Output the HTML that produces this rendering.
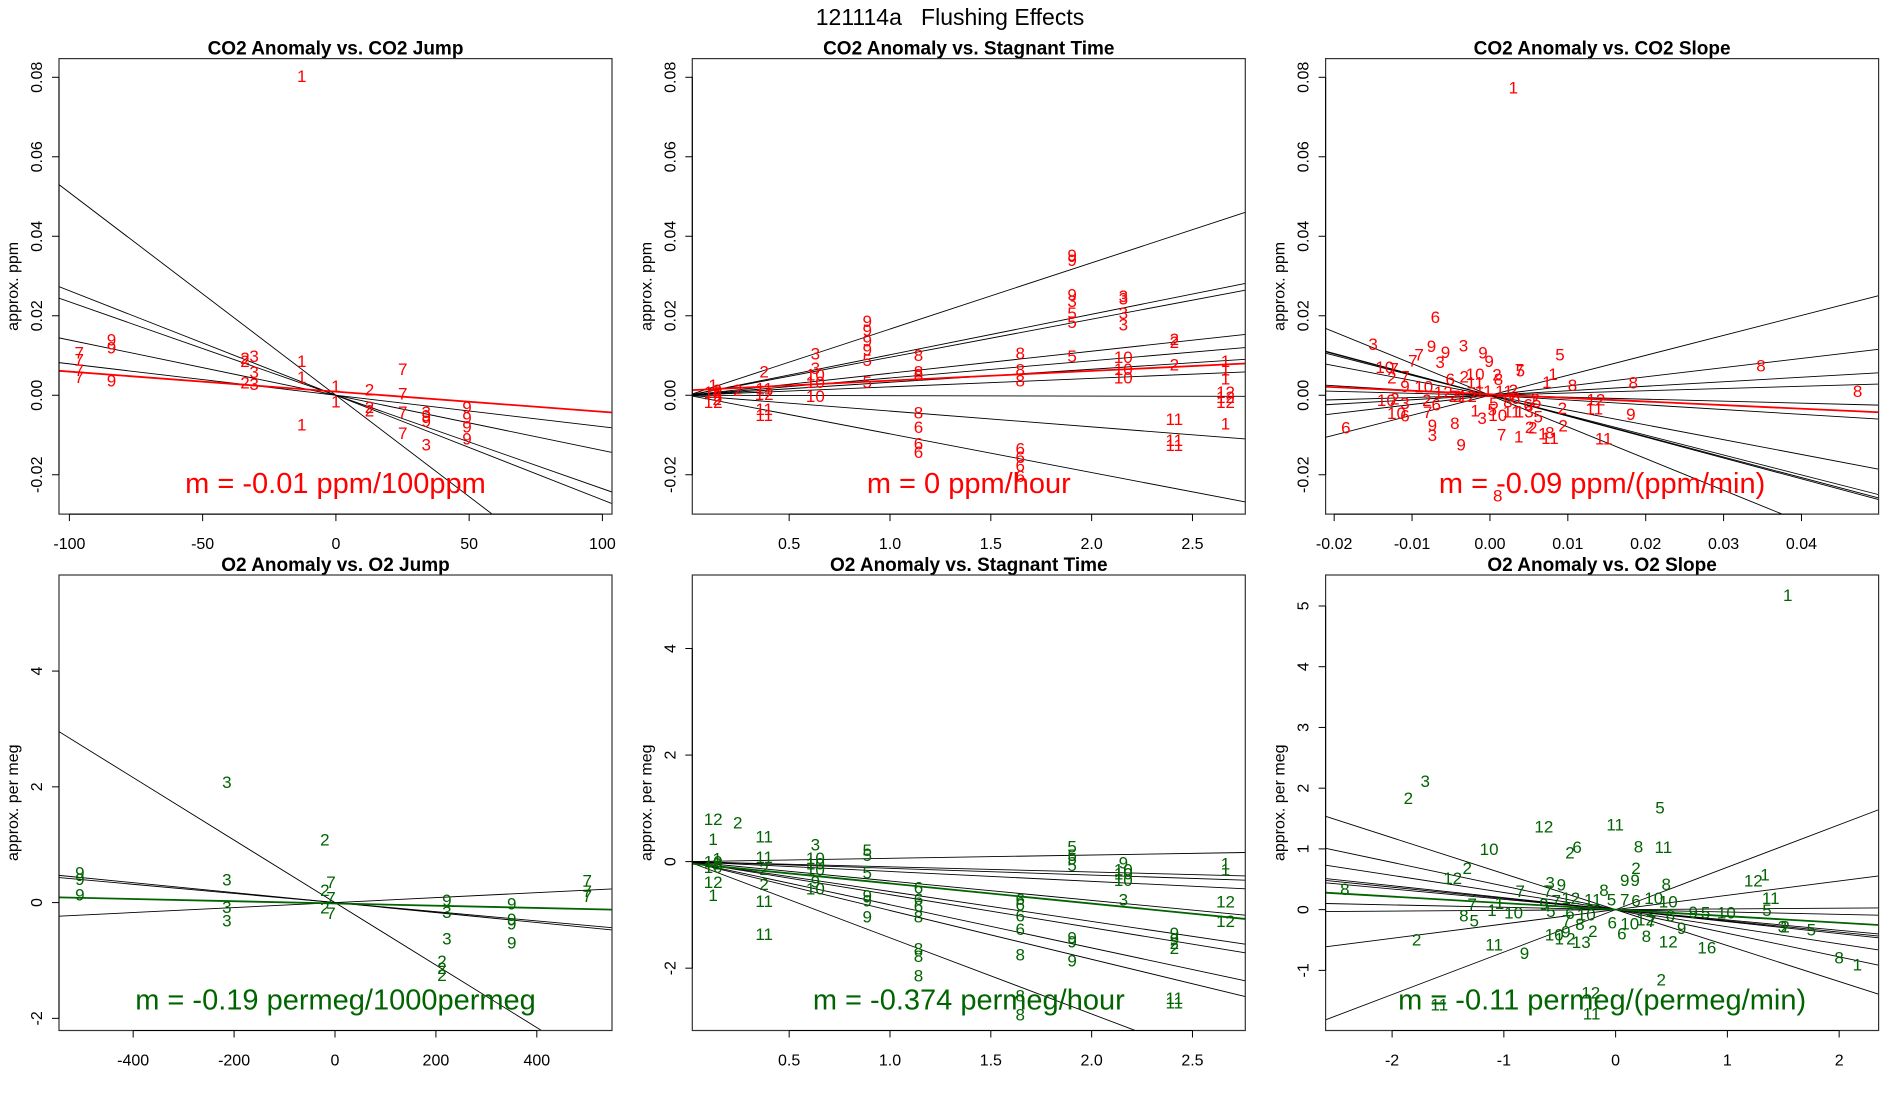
<!DOCTYPE html>
<html><head><meta charset="utf-8">
<style>
html,body{margin:0;padding:0;background:#fff;}
svg{display:block;font-family:"Liberation Sans",Arial,sans-serif;}
</style></head>
<body>
<svg id="fig" width="1900" height="1100" viewBox="0 0 1900 1100" xmlns="http://www.w3.org/2000/svg">
<text x="950" y="25" font-size="23" text-anchor="middle" xml:space="preserve" style="white-space:pre">121114a   Flushing Effects</text>
</svg>
<script>
// ---------- Panel 1: CO2 Anomaly vs CO2 Jump ----------
const p1Lab = ['1','9','9','9','7','7','7','7','2','3','2','3','2','3','1','1','1','1','1','2','2','2','7','7','7','7','3','9','9','3','9','9','9','9'];
const p1X = [-12.8,-84.2,-84.2,-84.2,-96.3,-96.3,-96.3,-96.3,-34.1,-30.7,-34.1,-30.7,-34.1,-30.7,-12.8,-12.8,-12.8,0,0,12.6,12.6,12.6,25.1,25.1,25.1,25.1,33.9,33.9,33.9,33.9,49.2,49.2,49.2,49.2];
const p1Y = [0.0803,0.0140,0.0121,0.0037,0.0108,0.0090,0.0064,0.0046,0.0094,0.0099,0.0086,0.0059,0.0033,0.0028,0.0086,0.0046,-0.0073,0.0024,-0.0016,0.0015,-0.0029,-0.0038,0.0066,0.0005,-0.0042,-0.0095,-0.0042,-0.0050,-0.0065,-0.0124,-0.0029,-0.0056,-0.0078,-0.0108];
const p1Slopes = [-0.00051,-0.000263,-0.000235,-0.000139,-0.000079];
const p1Fit = [0.0009,-0.0000505];
const p1XTicks = [-100,-50,0,50,100];
const p1XTickLabels = ['-100','-50','0','50','100'];
const p1YTicks = [-0.02,0,0.02,0.04,0.06,0.08];
const p1YTickLabels = ['-0.02','0.00','0.02','0.04','0.06','0.08'];

// ---------- Panel 2: CO2 Anomaly vs Stagnant Time ----------
const p2Lab = ['1','12','12','2','9','2','2','2','11','12','11','11','3','3','10','10','10','9','9','9','9','5','5','8','8','8','8','6','6','6','8','8','8','6','6','6','6','9','9','9','3','5','5','5','3','3','3','3','10','10','10','2','2','2','11','11','11','1','1','1','12','12','12','1'];
const p2X = [0.123,0.123,0.123,0.143,0.143,0.143,0.245,0.376,0.376,0.376,0.376,0.376,0.63,0.63,0.63,0.63,0.63,0.887,0.887,0.887,0.887,0.887,0.887,1.141,1.141,1.141,1.141,1.141,1.141,1.141,1.646,1.646,1.646,1.646,1.646,1.646,1.646,1.903,1.903,1.903,1.903,1.903,1.903,1.903,2.157,2.157,2.157,2.157,2.157,2.157,2.157,2.41,2.41,2.41,2.41,2.41,2.41,2.664,2.664,2.664,2.664,2.664,2.664,2.664];
const p2Y = [0.0026,0.0009,-0.0017,0.0013,0,-0.0009,0.0013,0.0060,0.0017,0.0004,-0.0034,-0.0049,0.0105,0.0069,0.0052,0.0034,-0.0002,0.0187,0.0164,0.0138,0.0116,0.0089,0.0034,0.0102,0.0060,0.0052,-0.0043,-0.0080,-0.0121,-0.0142,0.0106,0.0065,0.0037,-0.0134,-0.0155,-0.0177,-0.0203,0.0353,0.0340,0.0254,0.0237,0.0207,0.0185,0.0099,0.0250,0.0244,0.0207,0.0178,0.0097,0.0066,0.0045,0.0142,0.0134,0.0078,-0.0060,-0.0112,-0.0125,0.0086,0.0065,0.0043,0.0009,-0.0004,-0.0017,-0.0071];
const p2Slopes = [0.01666,0.01019,0.00957,0.00554,0.00434,0.00327,0.00212,-0.0001,-0.00398,-0.00972];
const p2Fit = [0.00125,0.00244];
const p2XTicks = [0.5,1.0,1.5,2.0,2.5];
const p2XTickLabels = ['0.5','1.0','1.5','2.0','2.5'];

// ---------- Panel 3: CO2 Anomaly vs CO2 Slope ----------
const p3Lab = ['1','6','3','9','9','3','9','9','7','7','3','5','7','5','1','1','8','8','8','8','10','7','2','7','9','10','6','2','10','2','8','11','12','2','3','12','11','11','2','10','2','3','2','6','10','6','7','9','3','8','9','1','3','5','5','10','11','13','2','5','6','5','2','2','2','2','7','1','1','8','11','12','11','11','9','6','8','8','6'];
const p3X = [0.0030,-0.0070,-0.0150,-0.0075,-0.0057,-0.0034,-0.0009,-0.0001,-0.0091,-0.0099,-0.0064,0.0090,0.0038,0.0039,0.0081,0.0073,0.0106,0.0184,0.0348,0.0472,-0.0135,-0.0123,-0.0126,-0.0109,-0.0109,-0.0085,-0.0051,-0.0033,-0.0019,0.0009,0.0011,-0.0019,-0.0060,-0.0047,-0.0042,-0.0029,-0.0008,0.0018,0.0030,-0.0133,-0.0122,-0.0109,-0.0081,-0.0069,-0.0120,-0.0109,-0.0080,-0.0074,-0.0074,-0.0045,-0.0037,-0.0019,-0.0010,0.0005,0.0003,0.0010,0.0028,0.0044,0.0058,0.0060,0.0049,0.0062,0.0093,0.0094,0.0051,0.0055,0.0015,0.0037,0.0068,0.0077,0.0077,0.0136,0.0134,0.0146,0.0181,-0.0185,0.0010,0.0023,0.0033];
const p3Y = [0.0774,0.0197,0.0129,0.0124,0.0109,0.0125,0.0108,0.0086,0.0103,0.0088,0.0084,0.0103,0.0065,0.0062,0.0054,0.0034,0.0026,0.0032,0.0075,0.0011,0.0071,0.0067,0.0045,0.0047,0.0024,0.0022,0.0041,0.0047,0.0054,0.0052,0.0041,0.0032,0.0009,-0.0002,-0.0002,-0.0002,0.0011,0.0011,0.0013,-0.0012,-0.0008,-0.0019,-0.0012,-0.0023,-0.0044,-0.0050,-0.0042,-0.0074,-0.0100,-0.0070,-0.0124,-0.0038,-0.0057,-0.0019,-0.0036,-0.0049,-0.0040,-0.0040,-0.0009,-0.0015,-0.0023,-0.0053,-0.0032,-0.0076,-0.0079,-0.0081,-0.0098,-0.0103,-0.0096,-0.0094,-0.0107,-0.0010,-0.0033,-0.0109,-0.0047,-0.0081,-0.0252,-0.0015,-0.0006];
const p3Slopes = [0.502,0.2317,0.1133,0.0566,-0.0498,-0.120,-0.3725,-0.501,-0.518,-0.526,-0.797];
const p3Fit = [0.00023,-0.0904];
const p3XTicks = [-0.02,-0.01,0,0.01,0.02,0.03,0.04];
const p3XTickLabels = ['-0.02','-0.01','0.00','0.01','0.02','0.03','0.04'];

// ---------- Panel 4: O2 Anomaly vs O2 Jump ----------
const p4Lab = ['9','9','9','3','3','3','3','2','2','2','7','7','7','9','3','3','2','2','2','9','9','9','9','7','7','7'];
const p4X = [-505.6,-505.6,-505.6,-214.4,-214.4,-214.4,-214.4,-20,-20,-20,-8,-8,-8,221.6,221.6,221.6,212,212,212,350.4,350.4,350.4,350.4,500,500,500];
const p4Y = [0.52,0.41,0.14,2.085,0.40,-0.07,-0.31,1.094,0.218,-0.085,0.36,0.09,-0.175,0.05,-0.16,-0.62,-1.01,-1.13,-1.25,-0.01,-0.28,-0.36,-0.69,0.38,0.20,0.12];
const p4Slopes = [-0.0054,-0.00086,-0.00079,0.00043];
const p4Fit = [-0.015,-0.000193];
const p4XTicks = [-400,-200,0,200,400];
const p4XTickLabels = ['-400','-200','0','200','400'];
const p4YTicks = [-2,0,2,4];
const p4YTickLabels = ['-2','0','2','4'];

// ---------- Panel 5: O2 Anomaly vs Stagnant Time ----------
const p5Lab = ['12','1','10','10','12','1','1','2','2','11','11','2','2','11','11','3','10','10','10','9','10','5','5','5','9','9','9','6','6','6','8','8','8','8','6','6','6','6','8','8','8','5','5','5','5','9','9','9','9','10','10','10','3','9','9','2','2','11','11','1','1','12','12'];
const p5X = [0.123,0.123,0.123,0.123,0.123,0.123,0.143,0.143,0.245,0.376,0.376,0.376,0.376,0.376,0.376,0.63,0.63,0.63,0.63,0.63,0.63,0.887,0.887,0.887,0.887,0.887,0.887,1.141,1.141,1.141,1.141,1.141,1.141,1.141,1.646,1.646,1.646,1.646,1.646,1.646,1.646,1.903,1.903,1.903,1.903,1.903,1.903,1.903,2.157,2.157,2.157,2.157,2.157,2.41,2.41,2.41,2.41,2.41,2.41,2.664,2.664,2.664,2.664];
const p5Y = [0.80,0.43,0.0,-0.1,-0.38,-0.62,0.06,-0.03,0.74,0.47,0.09,-0.14,-0.42,-0.74,-1.36,0.32,0.07,-0.03,-0.15,-0.37,-0.5,0.22,0.125,-0.20,-0.63,-0.73,-1.03,-0.48,-0.70,-0.83,-1.03,-1.63,-1.77,-2.14,-0.70,-0.80,-1.01,-1.26,-1.74,-2.51,-2.87,0.29,0.125,0.06,-0.06,-1.42,-1.5,-1.85,-0.01,-0.15,-0.22,-0.34,-0.71,-1.34,-1.45,-1.53,-1.62,-2.56,-2.64,-0.03,-0.15,-0.75,-1.11];
const p5Slopes = [0.062,-0.0975,-0.126,-0.185,-0.364,-0.561,-0.620,-0.810,-0.917,-1.43];
const p5Fit = [-0.032,-0.378];
const p5YTicks = [-2,0,2,4];
const p5YTickLabels = ['-2','0','2','4'];

// ---------- Panel 6: O2 Anomaly vs O2 Slope ----------
const p6Lab = ['1','3','2','5','12','11','10','6','2','8','11','2','12','2','9','9','3','9','8','8','7','7','8','12','1','11','7','1','12','11','5','7','6','10','10','9','7','1','8','5','10','5','6','10','9','5','10','5','6','6','10','12','7','7','8','2','9','3','2','5','2','10','9','1','2','13','6','8','12','16','11','9','8','1','2','12','11','11'];
const p6X = [1.540,-1.703,-1.855,0.397,-0.642,-0.004,-1.132,-0.345,-0.408,0.204,0.427,-1.328,-1.458,0.182,0.082,0.174,-0.586,-0.486,0.453,-2.423,-0.853,-0.605,-0.104,1.232,1.336,1.388,-1.284,-1.039,-0.401,-0.204,-0.037,0.082,0.182,0.341,0.471,-0.642,-0.531,-1.106,-1.358,-1.265,-0.913,-0.579,-0.408,-0.263,0.694,0.805,0.991,1.354,0.490,-0.030,0.126,0.267,0.323,-0.438,-0.319,-0.204,0.590,1.492,1.517,1.751,-1.781,-0.549,-0.445,-0.505,-0.401,-0.308,0.056,0.275,0.471,0.816,-1.087,-0.816,2.0,2.163,0.408,-0.223,-0.215,-1.577];
const p6Y = [5.183,2.119,1.844,1.684,1.375,1.403,0.997,1.031,0.945,1.042,1.031,0.687,0.527,0.687,0.487,0.487,0.452,0.412,0.424,0.338,0.309,0.309,0.326,0.481,0.584,0.195,0.097,0.115,0.195,0.172,0.166,0.166,0.155,0.195,0.137,0.097,0.155,0,-0.092,-0.178,-0.046,-0.017,-0.057,-0.074,-0.034,-0.046,-0.046,0,-0.092,-0.206,-0.229,-0.160,-0.189,-0.178,-0.235,-0.349,-0.304,-0.275,-0.275,-0.321,-0.487,-0.407,-0.361,-0.475,-0.475,-0.533,-0.389,-0.430,-0.521,-0.619,-0.573,-0.716,-0.790,-0.905,-1.151,-1.363,-1.707,-1.564];
const p6Slopes = [0.699,0.236,0.012,-0.039,-0.170,-0.185,-0.197,-0.282,-0.389,-0.592];
const p6Fit = [0,-0.1076];
const p6XTicks = [-2,-1,0,1,2];
const p6XTickLabels = ['-2','-1','0','1','2'];
const p6YTicks = [-1,0,1,2,3,4,5];
const p6YTickLabels = ['-1','0','1','2','3','4','5'];

const NS = 'http://www.w3.org/2000/svg';
const svg = document.getElementById('fig');
const RED = '#ff0000', GREEN = '#006400';

function mk(tag, attrs, parent) {
  const e = document.createElementNS(NS, tag);
  for (const k in attrs) e.setAttribute(k, attrs[k]);
  (parent || svg).appendChild(e);
  return e;
}

function drawPanel(o) {
  const L = 59 + o.col * 633.3, T = 58.6 + o.row * 516.4, W = 553, H = 455.5;
  const g = mk('g', {});
  
  
  const sx = v => L + (v - o.xlim[0]) / (o.xlim[1] - o.xlim[0]) * W;
  const sy = v => T + H - (v - o.ylim[0]) / (o.ylim[1] - o.ylim[0]) * H;
  const clipId = 'clip-' + o.id;
  const cp = mk('clipPath', {id: clipId}, g);
  mk('rect', {x: L, y: T, width: W, height: H}, cp);

  const t = mk('text', {x: L + W / 2, y: T - 4, 'font-size': 19, 'font-weight': 'bold', 'text-anchor': 'middle'}, g);
  t.textContent = o.title;
  
  

  const body = mk('g', {'clip-path': 'url(#' + clipId + ')'}, g);
  
  

  o.slopes.forEach(m => {
    const ln = mk('line', {x1: sx(o.xlim[0]), y1: sy(m * o.xlim[0]), x2: sx(o.xlim[1]), y2: sy(m * o.xlim[1]), stroke: '#000', 'stroke-width': 0.9}, body);
    
    
  });
  const fl = mk('line', {x1: sx(o.xlim[0]), y1: sy(o.fit[0] + o.fit[1] * o.xlim[0]), x2: sx(o.xlim[1]), y2: sy(o.fit[0] + o.fit[1] * o.xlim[1]), stroke: o.color, 'stroke-width': 1.8}, body);
  
  

  o.lab.forEach((s, i) => {
    const p = mk('text', {x: sx(o.xs[i]), y: sy(o.ys[i]), dy: '0.36em', 'font-size': 17, fill: o.color, 'text-anchor': 'middle'}, body);
    p.textContent = s;
    
    
  });

  const a = mk('text', {x: L + W / 2, y: T + H - 21, 'font-size': 29, fill: o.color, 'text-anchor': 'middle'}, g);
  a.textContent = o.note;
  
  

  const b = mk('rect', {x: L, y: T, width: W, height: H, fill: 'none', stroke: '#333', 'stroke-width': 1.2}, g);
  
  

  const xa = mk('g', {}, g);
  
  
  mk('line', {x1: sx(o.xt[0]), y1: T + H, x2: sx(o.xt[o.xt.length - 1]), y2: T + H, stroke: '#000'}, xa);
  o.xt.forEach((v, i) => {
    mk('line', {x1: sx(v), y1: T + H, x2: sx(v), y2: T + H + 7, stroke: '#000'}, xa);
    const tl = mk('text', {x: sx(v), y: T + H + 35, 'font-size': 16, 'text-anchor': 'middle'}, xa);
    tl.textContent = o.xtl[i];
    
    
  });
  const ya = mk('g', {}, g);
  
  
  mk('line', {x1: L, y1: sy(o.yt[0]), x2: L, y2: sy(o.yt[o.yt.length - 1]), stroke: '#000'}, ya);
  o.yt.forEach((v, i) => {
    mk('line', {x1: L, y1: sy(v), x2: L - 7, y2: sy(v), stroke: '#000'}, ya);
    const xx = L - 17, yy = sy(v);
    const tl = mk('text', {x: xx, y: yy, 'font-size': 16, 'text-anchor': 'middle', transform: 'rotate(-90 ' + xx + ' ' + yy + ')'}, ya);
    tl.textContent = o.ytl[i];
    
    
  });
  const yx = L - 41, yy = T + H / 2;
  const yl = mk('text', {x: yx, y: yy, 'font-size': 16, 'text-anchor': 'middle', transform: 'rotate(-90 ' + yx + ' ' + yy + ')'}, g);
  yl.textContent = o.ylab;
  
  
}

drawPanel({id: 'panel-co2-jump', col: 0, row: 0, title: 'CO2 Anomaly vs. CO2 Jump', xlim: [-103.9, 103.6], ylim: [-0.0299, 0.0847], lab: p1Lab, xs: p1X, ys: p1Y, slopes: p1Slopes, fit: p1Fit, color: RED, note: 'm = -0.01 ppm/100ppm', xt: p1XTicks, xtl: p1XTickLabels, yt: p1YTicks, ytl: p1YTickLabels, ylab: 'approx. ppm'});
drawPanel({id: 'panel-co2-stagnant', col: 1, row: 0, title: 'CO2 Anomaly vs. Stagnant Time', xlim: [0.0196, 2.762], ylim: [-0.0299, 0.0847], lab: p2Lab, xs: p2X, ys: p2Y, slopes: p2Slopes, fit: p2Fit, color: RED, note: 'm = 0 ppm/hour', xt: p2XTicks, xtl: p2XTickLabels, yt: p1YTicks, ytl: p1YTickLabels, ylab: 'approx. ppm'});
drawPanel({id: 'panel-co2-slope', col: 2, row: 0, title: 'CO2 Anomaly vs. CO2 Slope', xlim: [-0.0211, 0.0499], ylim: [-0.0299, 0.0847], lab: p3Lab, xs: p3X, ys: p3Y, slopes: p3Slopes, fit: p3Fit, color: RED, note: 'm = -0.09 ppm/(ppm/min)', xt: p3XTicks, xtl: p3XTickLabels, yt: p1YTicks, ytl: p1YTickLabels, ylab: 'approx. ppm'});
drawPanel({id: 'panel-o2-jump', col: 0, row: 1, title: 'O2 Anomaly vs. O2 Jump', xlim: [-547, 549], ylim: [-2.21, 5.66], lab: p4Lab, xs: p4X, ys: p4Y, slopes: p4Slopes, fit: p4Fit, color: GREEN, note: 'm = -0.19 permeg/1000permeg', xt: p4XTicks, xtl: p4XTickLabels, yt: p4YTicks, ytl: p4YTickLabels, ylab: 'approx. per meg'});
drawPanel({id: 'panel-o2-stagnant', col: 1, row: 1, title: 'O2 Anomaly vs. Stagnant Time', xlim: [0.0196, 2.762], ylim: [-3.17, 5.38], lab: p5Lab, xs: p5X, ys: p5Y, slopes: p5Slopes, fit: p5Fit, color: GREEN, note: 'm = -0.374 permeg/hour', xt: p2XTicks, xtl: p2XTickLabels, yt: p5YTicks, ytl: p5YTickLabels, ylab: 'approx. per meg'});
drawPanel({id: 'panel-o2-slope', col: 2, row: 1, title: 'O2 Anomaly vs. O2 Slope', xlim: [-2.595, 2.353], ylim: [-1.99, 5.51], lab: p6Lab, xs: p6X, ys: p6Y, slopes: p6Slopes, fit: p6Fit, color: GREEN, note: 'm = -0.11 permeg/(permeg/min)', xt: p6XTicks, xtl: p6XTickLabels, yt: p6YTicks, ytl: p6YTickLabels, ylab: 'approx. per meg'});
</script>
</body></html>
